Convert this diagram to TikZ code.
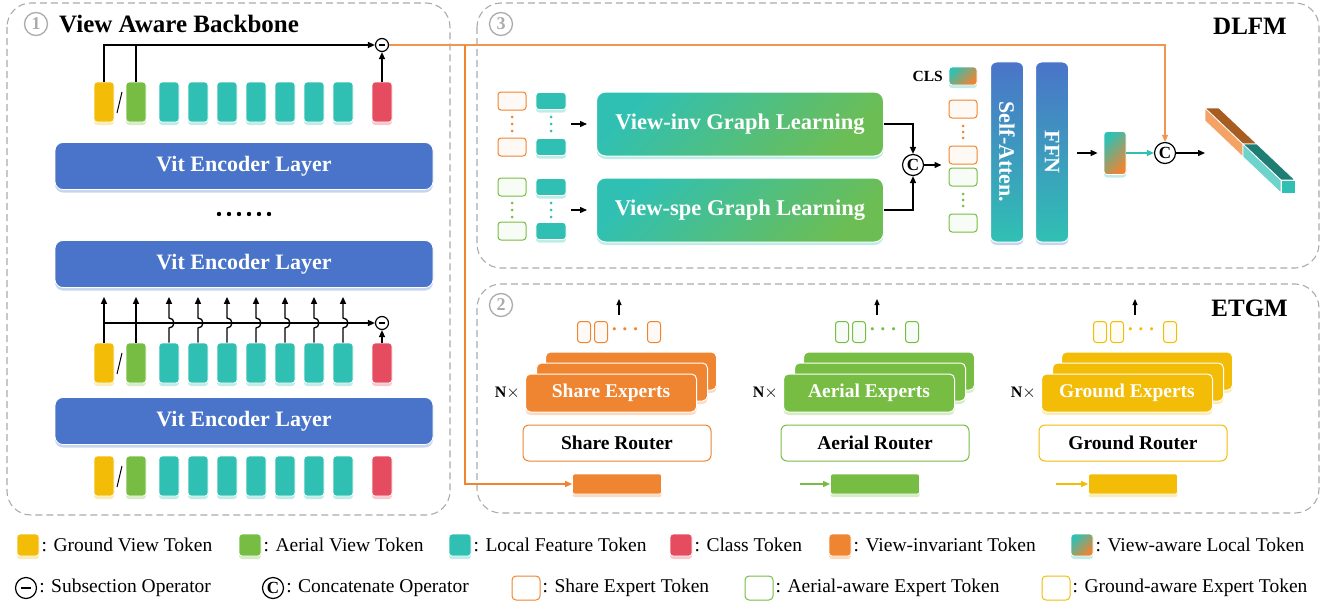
\documentclass[tikz,border=0pt]{standalone}
\usepackage{fontspec}
\setmainfont{Liberation Serif}
\usepackage{amsmath,amssymb}
\usepackage{graphicx}
\usetikzlibrary{arrows.meta,calc,shadows,positioning}

\definecolor{yellowc}{HTML}{F2BC07}
\definecolor{greenc}{HTML}{77BD43}
\definecolor{tealc}{HTML}{30C0B3}
\definecolor{redc}{HTML}{E54C60}
\definecolor{orangec}{HTML}{EF8431}
\definecolor{bluec}{HTML}{4A74C9}
\definecolor{panelc}{HTML}{ABABAB}
\newcommand{\fsz}[1]{\fontsize{#1}{#1}\selectfont}

\tikzset{
  panel/.style={draw=panelc, line width=1.1pt, dash pattern=on 7pt off 4pt, rounded corners=24pt},
  stepnum/.style={circle, draw=panelc, line width=1.3pt, text=panelc, minimum size=23pt, inner sep=0pt, font=\bfseries\fsz{18}},
  title/.style={inner sep=0pt, font=\bfseries\fsz{25}},
  glow/.style={drop shadow={shadow xshift=0pt, shadow yshift=-3pt, fill=#1, opacity=0.3}},
  tok/.style={rectangle, rounded corners=3pt, draw=white, line width=0.8pt, fill=#1, minimum width=20pt, minimum height=40pt, inner sep=0pt, glow=#1},
  ftok/.style={rectangle, rounded corners=3pt, draw=white, line width=0.8pt, fill=tealc, minimum width=30pt, minimum height=17pt, inner sep=0pt, glow=tealc},
  otok/.style={rectangle, rounded corners=3pt, draw=#1, line width=1pt, fill=#1!5, minimum width=28pt, minimum height=18pt, inner sep=0pt},
  gtok/.style={rectangle, rounded corners=3pt, draw=white, line width=0.8pt, left color=tealc, right color=orangec, shading angle=45, inner sep=0pt, glow=tealc},
  encoder/.style={rectangle, rounded corners=8pt, fill=bluec, draw=white, line width=0.8pt, minimum width=378pt, minimum height=47pt, text=white, font=\bfseries\fsz{22}, glow=bluec},
  graph/.style={rectangle, rounded corners=9pt, draw=white, line width=1pt, left color=tealc, right color=greenc!85!tealc, shading angle=45, minimum width=287pt, minimum height=64pt, text=white, font=\bfseries\fsz{22.5}, glow=tealc},
  bar/.style={rectangle, rounded corners=6pt, draw=white, line width=1pt, top color=bluec, bottom color=tealc, minimum width=33pt, minimum height=180pt, inner sep=0pt, text=white, font=\bfseries\fsz{22}, glow=bluec},
  expert/.style={rectangle, rounded corners=5pt, fill=#1, draw=white, line width=1pt, minimum width=171pt, minimum height=38pt, text=white, font=\bfseries\fsz{19.5}, glow=#1},
  router/.style={rectangle, rounded corners=6pt, draw=#1, fill=white, line width=1pt, minimum width=188pt, minimum height=36pt, font=\bfseries\fsz{19.5}},
  intok/.style={rectangle, rounded corners=2pt, fill=#1, draw=white, line width=0.8pt, minimum width=89pt, minimum height=20pt, glow=#1},
  subop/.style={circle, draw, line width=1.2pt, fill=white, minimum size=13pt, inner sep=0pt,
    path picture={\draw[line width=1.8pt] ([xshift=-#1]path picture bounding box.center) -- ([xshift=#1]path picture bounding box.center);}},
  subop/.default=3pt,
  catop/.style={circle, draw, line width=1.2pt, fill=white, minimum size=21pt, inner sep=0pt, font=\bfseries\fsz{17}},
  arr/.style={line width=1.3pt, -{Triangle[length=7pt,width=6pt]}},
  sarr/.style={line width=1.2pt, -{Triangle[length=6pt,width=5pt]}},
  carr/.style={draw=#1, line width=1.2pt, -{Triangle[length=7pt,width=6pt]}},
  key/.style={rectangle, rounded corners=3pt, draw=white, line width=0.8pt, fill=#1, minimum width=22pt, minimum height=22pt, inner sep=0pt, glow=#1},
  okey/.style={rectangle, rounded corners=4pt, draw=#1, line width=1pt, fill=white, minimum width=28pt, minimum height=24pt, inner sep=0pt},
  keytext/.style={anchor=west, inner sep=0pt, font=\fsz{19.5}},
  ntimes/.style={anchor=east, inner sep=0pt, font=\bfseries\fsz{16}}
}

\begin{document}
\begin{tikzpicture}[x=1pt,y=-1pt]
\useasboundingbox (0,0) rectangle (1332,602);

\draw[panel] (7,3) rectangle (450,515);
\draw[panel] (477,3) rectangle (1319,268);
\draw[panel] (477,284) rectangle (1319,513);
\node[stepnum] (n1) at (36,24) {1};
\node[title, anchor=west] (vab) at (59,24) {View Aware Backbone};
\node[stepnum] (n3) at (501,24) {3};
\node[title, anchor=east] (dlfm) at (1287,26) {DLFM};
\node[stepnum] (n2) at (501,305) {2};
\node[title, anchor=east] (etgm) at (1288,308) {ETGM};

% backbone
\node[encoder] (enc1) at (244,166) {Vit Encoder Layer};
\node[encoder] (enc2) at (244,264) {Vit Encoder Layer};
\node[encoder] (enc3) at (244,421) {Vit Encoder Layer};
\foreach \k in {0,...,5}
  \fill (219+10*\k,214) circle (2.2pt);

\foreach \r/\y in {t/102,m/363,b/476}{
  \node[tok=yellowc] (\r-y) at (104,\y) {};
  \node[tok=greenc] (\r-g) at (136,\y) {};
  \draw[line width=1pt] (117,\y+11) -- (122,\y-10);
  \foreach \k in {0,...,6}
    \node[tok=tealc] (\r-\k) at ({169+29*\k},\y) {};
  \node[tok=redc] (\r-r) at (382,\y) {};
}

\node[subop] (sub1) at (382,45) {};
\draw[line width=1.3pt] (t-g.north) -- (t-g.north |- sub1);
\draw[arr] (t-y.north) |- (sub1.west);
\draw[arr] (t-r.north) -- (sub1.south);

\node[subop] (sub2) at (382,323) {};
\draw[arr] (m-y.north) -- ([yshift=-9pt]m-y.north |- enc2.south);
\draw[arr] (m-g.north) -- ([yshift=-9pt]m-g.north |- enc2.south);
\draw[arr] (m-y.north |- sub2) -- (sub2.west);
\foreach \k in {0,...,6}
  \draw[arr] (m-\k.north) -- ([yshift=-5pt]m-\k.north |- sub2)
    arc[start angle=-90, end angle=90, radius=5pt] -- ([yshift=-9pt]m-\k.north |- enc2.south);
\draw[arr] (m-r.north) -- (sub2.south);

% DLFM
\foreach \y/\col [count=\i] in {101/orangec,147/orangec,187/greenc,231/greenc}{
  \node[otok=\col] (pi-\i) at (512,\y) {};
  \node[ftok] (pt-\i) at (551,\y) {};
}
\foreach \yy in {117,124,131}{
  \fill[orangec] (512,\yy) circle (1.5pt);
  \fill[tealc] (551,\yy) circle (1.5pt);
  \fill[greenc] (512,\yy+86) circle (1.5pt);
  \fill[tealc] (551,\yy+86) circle (1.5pt);
}
\node[graph] (ginv) at (740,124) {View-inv Graph Learning};
\node[graph] (gspe) at (740,210) {View-spe Graph Learning};
\draw[arr] ([xshift=5pt]pt-1.east |- ginv) -- ([xshift=-9pt]ginv.west);
\draw[arr] ([xshift=5pt]pt-3.east |- gspe) -- ([xshift=-9pt]gspe.west);

\node[catop] (cat1) at (913,165) {C};
\draw[arr] (ginv.east) -| (cat1.north);
\draw[arr] (gspe.east) -| (cat1.south);

\node[gtok, minimum width=28pt, minimum height=18pt] (cls) at (963,76) {};
\node[anchor=east, inner sep=0pt, font=\bfseries\fsz{15.5}] (clsl) at (943,76) {CLS};
\node[otok=orangec] (c-1) at (963,109) {};
\node[otok=orangec] (c-2) at (963,155) {};
\node[otok=greenc] (c-3) at (963,177) {};
\node[otok=greenc] (c-4) at (963,223) {};
\foreach \yy in {126,132,138}{
  \fill[orangec] (963,\yy) circle (1.5pt);
  \fill[greenc] (963,\yy+68) circle (1.5pt);
}
\draw[arr] (cat1.east) -- ([xshift=-7pt]cat1.east -| c-2.west);

\node[bar] (satt) at (1007,152) {\rotatebox{-90}{Self-Atten.}};
\node[bar] (ffn) at (1052,152) {\rotatebox{-90}{FFN}};
\node[gtok, minimum width=22pt, minimum height=43pt] (vt) at (1115,153) {};
\draw[arr] ([xshift=8pt]ffn.east |- vt) -- ([xshift=-6pt]vt.west);
\node[catop] (cat2) at (1165,153) {C};
\draw[carr=tealc] (vt.east) -- (cat2.west);
\coordinate (feat) at (1205,153);
\draw[arr] (cat2.east) -- (feat);

\filldraw[fill=orangec!75!white, draw=white, line width=0.8pt] (1205,108) -- (1243,144) -- (1243,157) -- (1205,121) -- cycle;
\filldraw[fill=orangec!70!black, draw=white, line width=0.8pt] (1205,108) -- (1219,108) -- (1257,144) -- (1243,144) -- cycle;
\filldraw[fill=tealc!70!white, draw=white, line width=0.8pt] (1243,144) -- (1281,180) -- (1281,193) -- (1243,157) -- cycle;
\filldraw[fill=tealc!65!black, draw=white, line width=0.8pt] (1243,144) -- (1257,144) -- (1295,180) -- (1281,180) -- cycle;
\filldraw[fill=tealc, draw=white, line width=0.8pt] (1281,180) rectangle (1295,193);

% ETGM
\foreach \cx/\col/\nm in {617/orangec/Share,875/greenc/Aerial,1133/yellowc/Ground}{
  \node[expert=\col] (\nm-e3) at (\cx+14,371) {};
  \node[expert=\col] (\nm-e2) at (\cx+5,382) {};
  \node[expert=\col] (\nm-e1) at (\cx-6,393) {\nm{} Experts};
  \node[ntimes] (\nm-n) at ([xshift=-5pt]\nm-e1.west) {N$\times$};
  \node[router=\col] (\nm-r) at (\cx,443) {\nm{} Router};
  \node[intok=\col] (\nm-in) at (\cx,484) {};
  \node[otok=\col, minimum width=13pt, minimum height=21pt] (\nm-o1) at (\cx-33,332) {};
  \node[otok=\col, minimum width=13pt, minimum height=21pt] (\nm-o2) at (\cx-16,332) {};
  \node[otok=\col, minimum width=13pt, minimum height=21pt] (\nm-o3) at (\cx+37,332) {};
  \node[text=\col, inner sep=0pt, font=\bfseries\fsz{20}] (\nm-d) at (\cx+10,330) {$\boldsymbol{\cdots}$};
  \coordinate (\nm-up) at (\cx+2,299);
  \draw[sarr] ([yshift=6pt]\nm-up |- \nm-o1.north) -- (\nm-up);
}

\draw[carr=orangec!85] (sub1.east) -| (cat2.north);
\coordinate (brk) at (465,45);
\draw[carr=orangec] (brk) |- (Share-in.west);
\draw[carr=greenc] ([xshift=-30pt]Aerial-in.west) -- (Aerial-in.west);
\draw[carr=yellowc] ([xshift=-32pt]Ground-in.west) -- (Ground-in.west);

% legend
\foreach \x/\col/\lab [count=\i] in {28/yellowc/Ground View Token,250/greenc/Aerial View Token,460/tealc/Local Feature Token,681/redc/Class Token,840/orangec/View-invariant Token}{
  \node[key=\col] (k-\i) at (\x,545) {};
  \node[keytext] (kt-\i) at ([xshift=2pt]k-\i.east) {: \lab};
}
\node[gtok, minimum width=22pt, minimum height=22pt] (k-6) at (1082,545) {};
\node[keytext] (kt-6) at ([xshift=2pt]k-6.east) {: View-aware Local Token};

\node[subop=5pt, minimum size=21pt] (k-7) at (26,588) {};
\node[keytext] (kt-7) at ([xshift=2pt]k-7.east) {: Subsection Operator};
\node[catop] (k-8) at (273,588) {C};
\node[keytext] (kt-8) at ([xshift=2pt]k-8.east) {: Concatenate Operator};
\foreach \x/\col/\lab [count=\i from 9] in {526/orangec/Share Expert Token,759/greenc/Aerial-aware Expert Token,1056/yellowc/Ground-aware Expert Token}{
  \node[okey=\col] (k-\i) at (\x,588) {};
  \node[keytext] (kt-\i) at ([xshift=2pt]k-\i.east) {: \lab};
}
\end{tikzpicture}
\end{document}
